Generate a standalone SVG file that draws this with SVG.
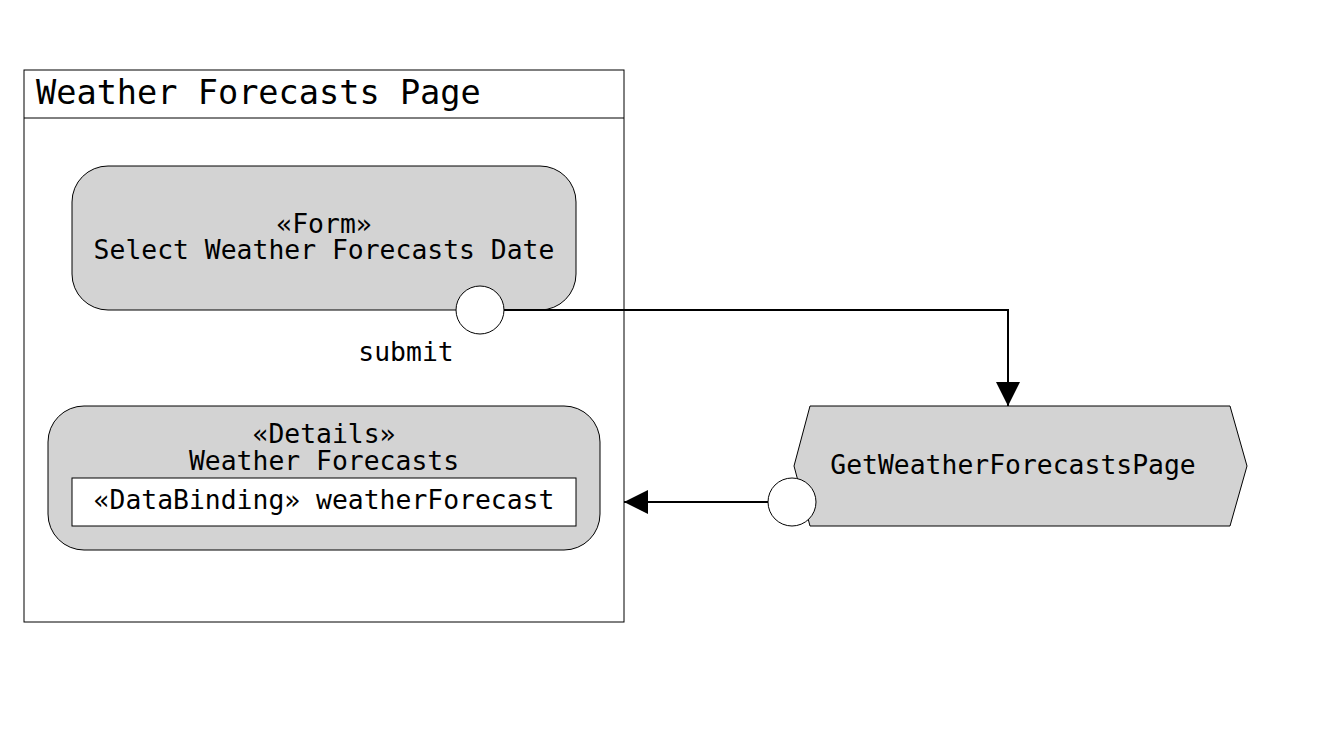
<svg xmlns="http://www.w3.org/2000/svg" width="1327" height="746" viewBox="0 0 1327 746">
<style>
text{font-family:"DejaVu Sans Mono","Liberation Mono",monospace;font-size:26.4px;fill:#000}
.node{fill:#d3d3d3;stroke:#000;stroke-width:1}
.pin{fill:#fff;stroke:#000;stroke-width:1}
.edge{fill:none;stroke:#000;stroke-width:2}
</style>
<defs>
<marker id="arr" markerWidth="24" markerHeight="24" refX="24" refY="12" orient="auto" markerUnits="userSpaceOnUse" viewBox="0 0 24 24">
<path d="M0,0 L24,12 L0,24 Z" fill="#000"/>
</marker>
</defs>
<rect width="1327" height="746" fill="#fff"/>
<g id="page">
<rect x="24" y="70" width="600" height="552" fill="#fff" stroke="#000" stroke-width="1"/>
<line x1="24" y1="118" x2="624" y2="118" stroke="#000" stroke-width="1"/>
<text x="36" y="104" style="font-size:33.6px">Weather Forecasts Page</text>
</g>
<g id="form">
<rect class="node" x="72" y="166" width="504" height="144" rx="36" ry="36"/>
<text x="324" y="233" text-anchor="middle">«Form»</text>
<text x="324" y="259" text-anchor="middle">Select Weather Forecasts Date</text>
</g>
<g id="details">
<rect class="node" x="48" y="406" width="552" height="144" rx="36" ry="36"/>
<text x="324" y="443" text-anchor="middle">«Details»</text>
<text x="324" y="470" text-anchor="middle">Weather Forecasts</text>
<rect x="72" y="478" width="504" height="48" fill="#fff" stroke="#000" stroke-width="1"/>
<text x="324" y="509" text-anchor="middle">«DataBinding» weatherForecast</text>
</g>
<g id="action">
<polygon class="node" points="810,406 1230,406 1247,466 1230,526 810,526 794,466"/>
<text x="1013" y="474" text-anchor="middle">GetWeatherForecastsPage</text>
</g>
<g id="connectors">
<path class="edge" d="M504,310 H1008 V406" marker-end="url(#arr)"/>
<path class="edge" d="M768,502 H624" marker-end="url(#arr)"/>
</g>
<g id="pins">
<circle id="submit-pin" class="pin" cx="480" cy="310" r="24"/>
<text x="406" y="361" text-anchor="middle">submit</text>
<circle id="result-pin" class="pin" cx="792" cy="502" r="24"/>
</g>
</svg>
